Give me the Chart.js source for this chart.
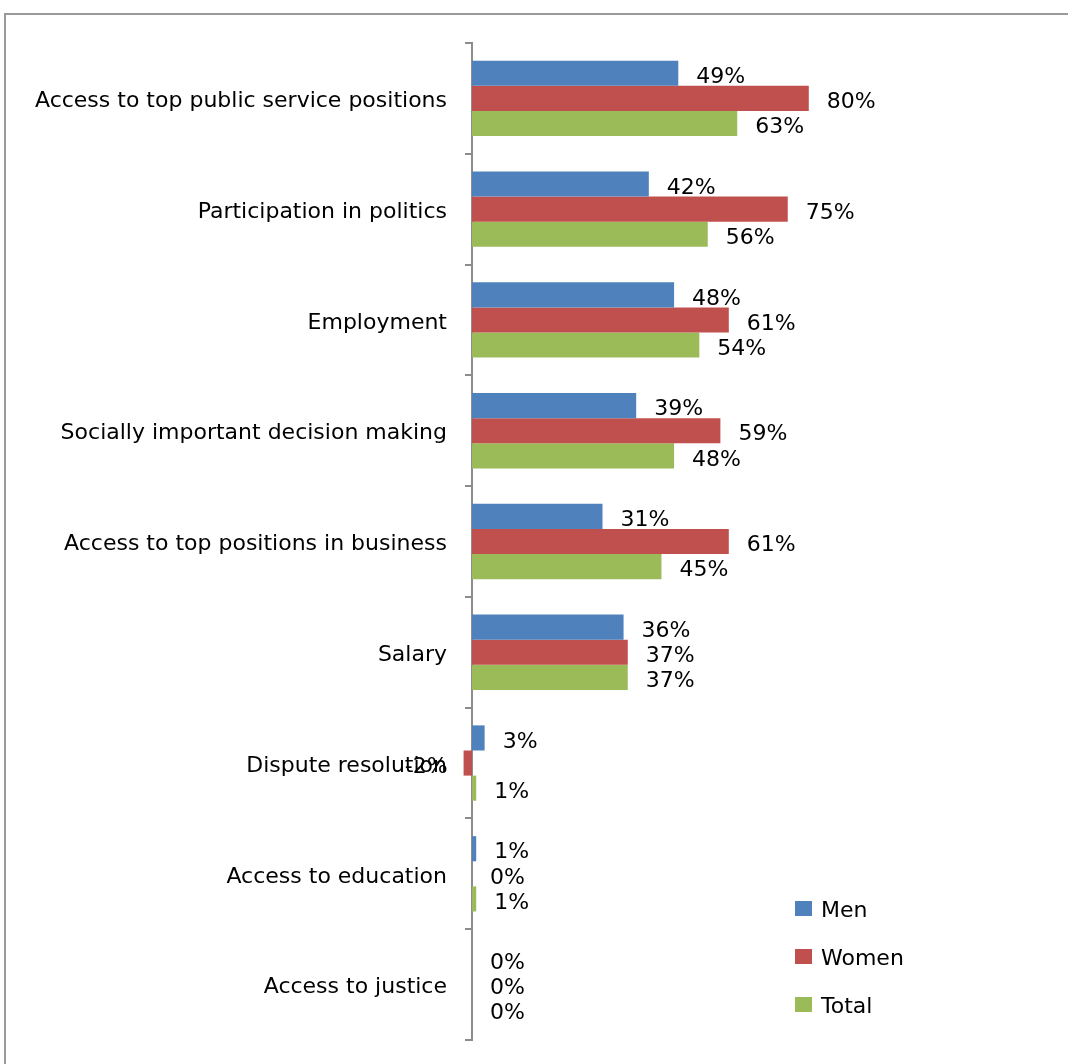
<!DOCTYPE html>
<html>
<head>
<meta charset="utf-8">
<script src="https://cdn.jsdelivr.net/npm/chart.js@4"></script>
<style>
  html, body { margin: 0; padding: 0; background: #ffffff; }
  #wrap { position: relative; width: 1068px; height: 1064px; }
</style>
</head>
<body>
<div id="wrap"><canvas id="c" width="1068" height="1064"></canvas></div>
<script>
const categories = [
  "Access to top public service positions",
  "Participation in politics",
  "Employment",
  "Socially important decision making",
  "Access to top positions in business",
  "Salary",
  "Dispute resolution",
  "Access to education",
  "Access to justice"
];
const seriesNames = ["Men", "Women", "Total"];
const menValues   = [49, 42, 48, 39, 31, 36, 3, 1, 0];
const womenValues = [80, 75, 61, 59, 61, 37, -2, 0, 0];
const totalValues = [63, 56, 54, 48, 45, 37, 1, 1, 0];
const seriesColors = ["#4F81BD", "#C0504D", "#9BBB59"];

const FONT = "'DejaVu Sans', sans-serif";
const FONT_SIZE = 22;

const frame = {
  id: 'frame',
  beforeDraw(chart) {
    const ctx = chart.ctx;
    ctx.save();
    ctx.fillStyle = '#ffffff';
    ctx.fillRect(0, 0, chart.width, chart.height);
    ctx.strokeStyle = '#9a9a9a';
    ctx.lineWidth = 2;
    ctx.beginPath();
    ctx.moveTo(5, chart.height + 5);
    ctx.lineTo(5, 14);
    ctx.lineTo(chart.width + 5, 14);
    ctx.stroke();
    ctx.restore();
  }
};

const dataLabels = {
  id: 'dataLabels',
  afterDatasetsDraw(chart) {
    const ctx = chart.ctx;
    ctx.save();
    ctx.font = FONT_SIZE + 'px ' + FONT;
    ctx.fillStyle = '#000000';
    ctx.textBaseline = 'middle';
    chart.data.datasets.forEach((ds, di) => {
      const meta = chart.getDatasetMeta(di);
      meta.data.forEach((el, i) => {
        const v = ds.data[i];
        const txt = v + '%';
        if (v < 0) {
          ctx.textAlign = 'right';
          ctx.fillText(txt, el.x - 16, el.y + 4);
        } else {
          ctx.textAlign = 'left';
          ctx.fillText(txt, el.x + 18, el.y + 4);
        }
      });
    });
    ctx.restore();
  }
};

const customLegend = {
  id: 'customLegend',
  afterDraw(chart) {
    const ctx = chart.ctx;
    ctx.save();
    ctx.font = FONT_SIZE + 'px ' + FONT;
    ctx.textBaseline = 'middle';
    ctx.textAlign = 'left';
    chart.data.datasets.forEach((ds, i) => {
      const y = 901 + 48 * i;
      ctx.fillStyle = ds.backgroundColor;
      ctx.fillRect(795, y, 17, 15);
      ctx.fillStyle = '#000000';
      ctx.fillText(ds.label, 821, y + 10);
    });
    ctx.restore();
  }
};

const datasets = [menValues, womenValues, totalValues].map((vals, i) => ({
  label: seriesNames[i],
  data: vals,
  backgroundColor: seriesColors[i],
  borderWidth: 0,
  categoryPercentage: 0.68,
  barPercentage: 1.0,
  clip: false
}));

new Chart(document.getElementById('c'), {
  type: 'bar',
  data: { labels: categories, datasets: datasets },
  options: {
    indexAxis: 'y',
    responsive: false,
    animation: false,
    events: [],
    layout: { padding: { left: 0, right: 175, top: 43, bottom: 24 } },
    plugins: {
      legend: { display: false },
      tooltip: { enabled: false }
    },
    scales: {
      x: {
        display: false,
        min: 0,
        max: 100
      },
      y: {
        afterFit(scale) {
          scale.width = 472;
          scale.paddingTop = 0;
          scale.paddingBottom = 0;
        },
        border: { display: true, color: '#8c8c8c', width: 2 },
        grid: {
          display: true,
          drawOnChartArea: false,
          drawTicks: true,
          tickLength: 7,
          color: '#8c8c8c',
          lineWidth: 2,
          offset: true
        },
        ticks: {
          color: '#000000',
          padding: 18,
          labelOffset: 3,
          font: { family: FONT, size: FONT_SIZE }
        }
      }
    }
  },
  plugins: [frame, dataLabels, customLegend]
});
</script>
</body>
</html>
